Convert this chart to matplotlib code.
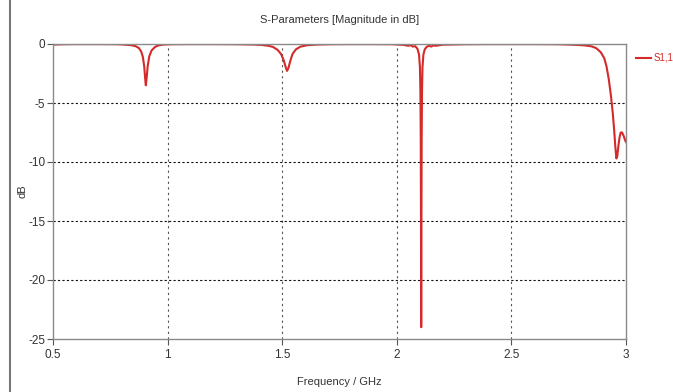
import matplotlib
matplotlib.use("Agg")
import matplotlib.pyplot as plt
from matplotlib.lines import Line2D

# Frequency (GHz) and S1,1 magnitude (dB)
freq = [0.50, 0.55, 0.60, 0.70, 0.78, 0.81, 0.84, 0.86, 0.875, 0.885, 0.892, 0.898, 0.902, 0.905,
        0.908, 0.913, 0.92, 0.93, 0.945, 0.96, 0.98, 1.02, 1.10, 1.20, 1.30, 1.38, 1.41, 1.44,
        1.46, 1.48, 1.495, 1.507, 1.515, 1.521, 1.527, 1.535, 1.545, 1.56, 1.58, 1.61, 1.65,
        1.71, 1.80, 1.90, 1.98, 2.03, 2.05, 2.06, 2.07, 2.08, 2.09, 2.097, 2.101, 2.103,
        2.1045, 2.1055, 2.1065, 2.1075, 2.1085, 2.110, 2.112, 2.116, 2.122, 2.13, 2.14, 2.15,
        2.16, 2.17, 2.20, 2.30, 2.40, 2.50, 2.60, 2.70, 2.75, 2.79, 2.82, 2.85, 2.87, 2.89,
        2.905, 2.915, 2.925, 2.935, 2.942, 2.948, 2.953, 2.958, 2.962, 2.967, 2.972, 2.977,
        2.983, 2.990, 2.997, 3.00]
s11 = [-0.05, -0.02, -0.01, -0.01, -0.02, -0.05, -0.10, -0.18, -0.35, -0.65, -1.10, -1.90, -2.90, -3.50,
       -3.00, -1.90, -1.05, -0.55, -0.25, -0.12, -0.05, -0.02, -0.01, -0.01, -0.02, -0.05, -0.08,
       -0.15, -0.25, -0.50, -0.85, -1.40, -1.95, -2.28, -2.05, -1.45, -0.85, -0.45, -0.22, -0.10,
       -0.05, -0.02, -0.01, -0.01, -0.02, -0.08, -0.15, -0.10, -0.22, -0.18, -0.40, -0.90, -2.0,
       -4.0, -8.0, -15.0, -24.0, -15.0, -8.0, -4.0, -2.0, -0.9, -0.45, -0.25, -0.15, -0.22, -0.12,
       -0.15, -0.06, -0.02, -0.01, -0.01, -0.01, -0.02, -0.05, -0.08, -0.12, -0.20, -0.35, -0.70,
       -1.20, -1.90, -3.00, -4.50, -5.80, -7.20, -8.60, -9.70, -9.50, -8.60, -7.90, -7.50,
       -7.50, -7.80, -8.20, -8.30]

xticks = [0.5, 1, 1.5, 2, 2.5, 3]
xtick_labels = ["0.5", "1", "1.5", "2", "2.5", "3"]
yticks = [0, -5, -10, -15, -20, -25]
ytick_labels = ["0", "-5", "-10", "-15", "-20", "-25"]

plt.rcParams['font.family'] = ['Liberation Sans Narrow', 'Liberation Sans', 'DejaVu Sans']

fig = plt.figure(figsize=(6.73, 3.92), dpi=100)
ax = fig.add_axes([53/673, 1 - 339/392, (626-53)/673, (339-44)/392])

red = '#d42a2a'
ax.plot(freq, s11, color=red, lw=1.5, solid_joinstyle='round')

ax.set_xlim(0.5, 3.0)
ax.set_ylim(-25, 0)
ax.set_xticks(xticks)
ax.set_xticklabels(xtick_labels)
ax.set_yticks(yticks)
ax.set_yticklabels(ytick_labels)

for x in xticks[1:-1]:
    ax.axvline(x, color='#555555', lw=0.8, ls=(0, (2, 3)), zorder=0)
for y in yticks[1:-1]:
    ax.axhline(y, color='#111111', lw=0.8, ls=(0, (2, 2)), zorder=0)

for sp in ax.spines.values():
    sp.set_color('#8a8a8a')
    sp.set_linewidth(1.0)
ax.tick_params(axis='both', direction='out', length=4, width=0.8, color='#555555',
               labelsize=8.5, labelcolor='#333333', pad=3)
ax.tick_params(axis='y', pad=1.5)

ax.set_title('S-Parameters [Magnitude in dB]', fontsize=8, color='#333333', pad=15)
ax.set_xlabel('Frequency / GHz', fontsize=8, color='#333333', labelpad=12)
ax.set_ylabel('dB', fontsize=8, color='#333333')
ax.yaxis.set_label_coords((27 - 53) / 573, 0.5)

# Legend entry on the right
fig.add_artist(Line2D([636/673, 651/673], [1 - 58/392, 1 - 58/392], color=red, lw=1.5))
fig.text(654/673, 1 - 58/392, 'S1,1', color=red, fontsize=7, va='center', ha='left')

# Left border line
fig.add_artist(Line2D([10/673, 10/673], [0, 1], color='#777777', lw=1.5))

fig.savefig('out.png', dpi=100)
